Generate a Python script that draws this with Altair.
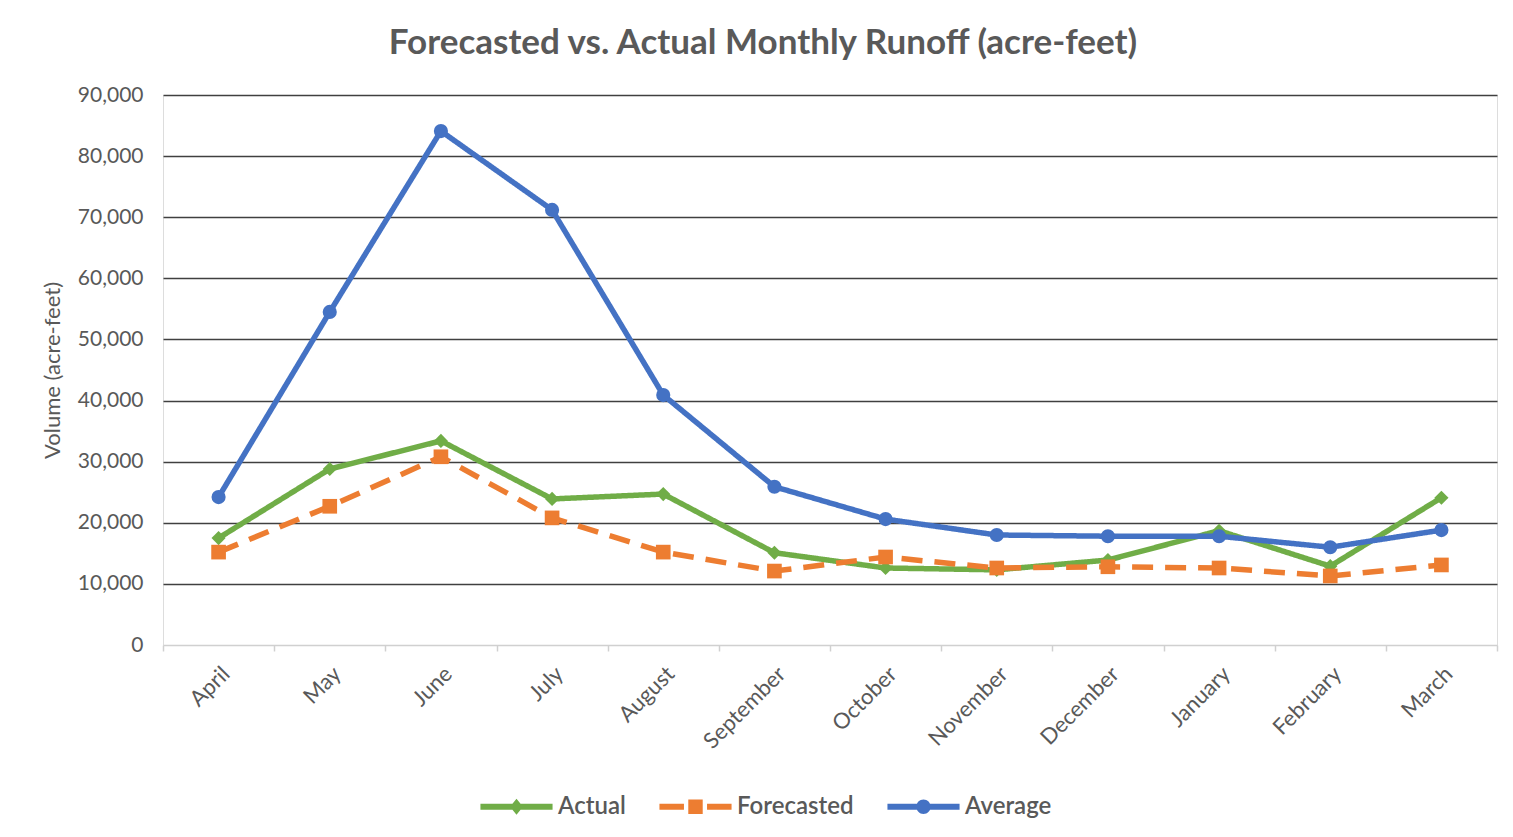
import altair as alt
import pandas as pd

months = ["April", "May", "June", "July", "August", "September", "October",
          "November", "December", "January", "February", "March"]
actual = [17500, 28800, 33400, 23900, 24700, 15100, 12600, 12300, 13900, 18700, 12900, 24100]
forecasted = [15200, 22700, 30800, 20800, 15200, 12100, 14400, 12600, 12800, 12600, 11300, 13100]
average = [24200, 54500, 84100, 71200, 40900, 25900, 20600, 18000, 17800, 17800, 16000, 18800]

series = ["Actual", "Forecasted", "Average"]
colors = ["#70AD47", "#ED7D31", "#4472C4"]

rows = []
for name, vals in zip(series, [actual, forecasted, average]):
    for m, v in zip(months, vals):
        rows.append({"month": m, "series": name, "value": v})
df = pd.DataFrame(rows)

FONT = "Lato"
GRAY = "#595959"

x_enc = alt.X("month:O", sort=months, bandPosition=0.5,
              scale=alt.Scale(type="band", paddingInner=0, paddingOuter=0),
              axis=alt.Axis(title=None, labelAngle=-45, labelFontSize=22, labelColor=GRAY,
                            labelFont=FONT, labelPadding=12, tickBand="extent", tickSize=6,
                            tickColor="#d0d0d0", tickWidth=1.5, domainColor="#d0d0d0",
                            domainWidth=1.5, grid=False))
y_enc = alt.Y("value:Q", scale=alt.Scale(domain=[0, 90000], nice=False),
              axis=alt.Axis(title="Volume (acre-feet)", values=list(range(0, 90001, 10000)),
                            format=",d", labelFontSize=21, labelColor=GRAY, labelFont=FONT,
                            labelPadding=20, ticks=False, domain=False,
                            titleFontSize=22, titleColor=GRAY, titleFont=FONT,
                            titleFontWeight="normal", titlePadding=13,
                            gridColor={"condition": {"test": "datum.value === 0", "value": "transparent"},
                                       "value": "#404040"},
                            gridWidth=1.3))

color_scale = alt.Scale(domain=series, range=colors)

leg_paths = [
    "M-1,-0.08L1,-0.08L1,0.08L-1,0.08Z M0,-0.22L0.18,0L0,0.22L-0.18,0Z",
    "M-1,-0.08L-0.32,-0.08L-0.32,0.08L-1,0.08Z M-0.2,-0.2L0.2,-0.2L0.2,0.2L-0.2,0.2Z M0.32,-0.08L1,-0.08L1,0.08L0.32,0.08Z",
    "M-1,-0.08L1,-0.08L1,0.08L-1,0.08Z M0.2,0A0.2,0.2 0 1,1 -0.2,0A0.2,0.2 0 1,1 0.2,0Z",
]
leg = alt.Legend(title=None, orient="none", direction="horizontal", legendX=317, legendY=675,
                 labelFontSize=24, labelFontWeight=600, labelColor=GRAY, labelFont=FONT,
                 symbolSize=5200, symbolStrokeWidth=0, labelOffset=5, columnPadding=33,
                 symbolOpacity=1)
legend_layer = alt.Chart(df).transform_filter("false").mark_point(filled=True, opacity=1).encode(
    x=x_enc, y=y_enc,
    color=alt.Color("series:N", scale=color_scale, legend=leg),
    shape=alt.Shape("series:N", scale=alt.Scale(domain=series, range=leg_paths), legend=leg),
)

lines = alt.Chart(df).mark_line(strokeWidth=5.5).encode(
    x=x_enc, y=y_enc,
    color=alt.Color("series:N", scale=color_scale, legend=None),
    strokeDash=alt.StrokeDash("series:N",
                              scale=alt.Scale(domain=series, range=[[1, 0], [21, 12], [1, 0]]),
                              legend=None),
)

shapes = {"Actual": ("diamond", 200), "Forecasted": ("square", 215), "Average": ("circle", 200)}
points = []
for name in series:
    sh, sz = shapes[name]
    points.append(
        alt.Chart(df).transform_filter(alt.datum.series == name)
        .mark_point(filled=True, shape=sh, size=sz, opacity=1)
        .encode(x=x_enc, y=y_enc,
                color=alt.Color("series:N", scale=color_scale, legend=None))
    )

chart = alt.layer(legend_layer, lines, *points).properties(
    width=1334, height=550,
    title=alt.TitleParams("Forecasted vs. Actual Monthly Runoff (acre-feet)", fontSize=35,
                          font=FONT, fontWeight="bold", color=GRAY, anchor="middle", dx=-67,
                          offset=23),
    autosize=alt.AutoSizeParams(type="none"),
    padding={"left": 155, "top": 87, "right": 6, "bottom": 178},
).configure_view(stroke=None).configure(background="white")

chart.save("out.html", embed_options={"renderer": "svg", "actions": False})
